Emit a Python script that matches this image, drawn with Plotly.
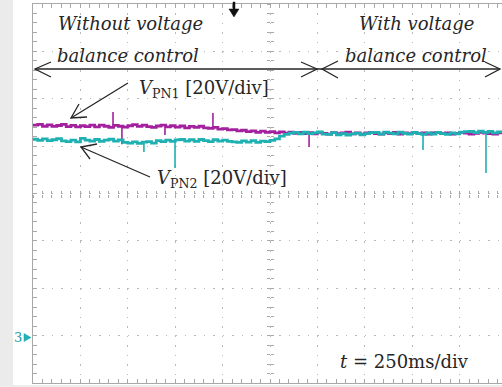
import numpy as np
import plotly.graph_objects as go

# ---------------- data ----------------
sample_step = 0.025  # s between samples
vpn1 = [88.9, 89.2, 88.4, 89.0, 88.3, 88.7, 89.2, 88.2, 88.8, 88.1,
        88.6, 88.2, 88.9, 88.1, 88.9, 88.4, 87.9, 88.8, 88.4, 88.0,
        88.6, 89.1, 88.3, 88.9, 88.2, 87.9, 88.5, 88.9, 88.1, 88.6,
        88.0, 88.5, 87.7, 88.3, 87.9, 88.4, 87.7, 87.5, 87.9, 87.2,
        87.4, 86.9, 87.0, 86.4, 86.7, 86.1, 86.4, 85.8, 86.3, 85.8,
        86.1, 85.6, 86.0, 85.5, 85.9, 85.4, 85.8, 85.3, 85.7, 85.2,
        85.8, 85.4, 85.1, 85.7, 85.3, 85.6, 85.9, 85.2, 85.6, 85.1,
        85.6, 85.8, 85.3, 85.1, 85.6, 85.3, 85.8, 85.1, 85.6, 85.3,
        85.8, 85.3, 85.6, 85.1, 85.6, 85.8, 85.3, 85.6, 85.1, 85.4,
        85.8, 85.5, 85.1, 85.4, 85.8, 85.5, 85.3, 85.1, 85.6, 85.8]
vpn2 = [82.9, 82.4, 83.1, 82.3, 82.7, 83.2, 82.2, 81.9, 82.5, 81.8,
        83.3, 82.5, 82.1, 82.8, 82.0, 82.5, 82.9, 82.1, 82.6, 81.6,
        81.3, 81.8, 81.2, 81.7, 81.9, 81.3, 82.3, 81.9, 82.5, 82.0,
        82.6, 82.8, 82.1, 82.7, 82.0, 82.8, 82.3, 81.9, 82.7, 82.1,
        82.5, 82.0, 81.8, 81.6, 82.2, 81.7, 82.3, 81.6, 82.1, 81.9,
        82.4, 83.1, 84.2, 85.0, 85.5, 85.8, 85.2, 85.9, 85.3, 85.6,
        86.0, 85.1, 85.0, 85.7, 84.8, 85.3, 84.7, 85.2, 85.5, 84.8,
        85.3, 85.7, 85.8, 85.1, 85.9, 85.5, 85.2, 85.9, 85.4, 85.1,
        85.8, 85.3, 85.0, 85.6, 85.1, 85.8, 85.3, 85.0, 85.6, 85.2,
        85.9, 86.1, 86.2, 85.7, 86.3, 85.8, 86.2, 85.6, 86.0, 85.5]
vpn1_spike_t = [0.422, 0.469, 0.696, 0.949, 1.456]
vpn1_spike_v = [94.4, 80.8, 84.7, 94.0, 79.6]
vpn2_spike_t = [0.585, 0.749, 2.057, 2.389]
vpn2_spike_v = [77.5, 70.8, 78.4, 68.7]

t = [i * sample_step for i in range(len(vpn1))]

MAG = "#a3219f"
CYA = "#1fb0b2"
GRID = "#b9b9b9"
BORDER = "#a8a8a8"
INK = "#262626"

XR = [0, 2.4735]
YR = [-20, 140]


def spikes(ts, vs, base):
    xs, ys = [], []
    for ti, vi in zip(ts, vs):
        b = float(np.interp(ti, t, base))
        xs += [ti, ti, None]
        ys += [b, vi, None]
    return xs, ys


fig = go.Figure()
fig.add_trace(go.Scatter(x=t, y=vpn1, mode="lines", line=dict(color=MAG, width=2.8, shape="hv"),
                         hoverinfo="skip", showlegend=False))
sx, sy = spikes(vpn1_spike_t, vpn1_spike_v, vpn1)
fig.add_trace(go.Scatter(x=sx, y=sy, mode="lines", line=dict(color=MAG, width=1.6),
                         hoverinfo="skip", showlegend=False))
fig.add_trace(go.Scatter(x=t, y=vpn2, mode="lines", line=dict(color=CYA, width=2.8, shape="hv"),
                         hoverinfo="skip", showlegend=False))
sx, sy = spikes(vpn2_spike_t, vpn2_spike_v, vpn2)
fig.add_trace(go.Scatter(x=sx, y=sy, mode="lines", line=dict(color=CYA, width=1.6),
                         hoverinfo="skip", showlegend=False))
# dummy traces so the centre tick axes are drawn
for xa, ya in [("x2", "y"), ("x3", "y"), ("x", "y2"), ("x", "y3")]:
    fig.add_trace(go.Scatter(x=[None], y=[None], xaxis=xa, yaxis=ya, hoverinfo="skip", showlegend=False))

# ---------------- layout geometry ----------------
L, R, T, B = 33, 502, 4, 383
W, H = R - L, B - T


def px(x):
    return (x - L) / W


def py(y):
    return (B - y) / H


dash = "1.5px,7.98px"
fig.update_layout(
    width=502, height=387,
    margin=dict(l=L, r=0, t=T, b=387 - B, pad=0),
    paper_bgcolor="white", plot_bgcolor="white",
    xaxis=dict(range=XR, tick0=0, dtick=0.25, showticklabels=False,
               showgrid=True, gridcolor=GRID, griddash=dash, gridwidth=1,
               zeroline=False, showline=True, linecolor=BORDER, linewidth=1, mirror="allticks",
               ticks="inside", ticklen=4, tickcolor=BORDER,
               minor=dict(dtick=0.05, tick0=0, ticks="inside", ticklen=4, tickcolor=BORDER, showgrid=False)),
    yaxis=dict(range=YR, tick0=-20, dtick=20, showticklabels=False,
               showgrid=True, gridcolor=GRID, griddash=dash, gridwidth=1,
               zeroline=False, showline=True, linecolor=BORDER, linewidth=1, mirror=False,
               ticks="inside", ticklen=4, tickcolor=BORDER,
               minor=dict(dtick=4, tick0=-20, ticks="inside", ticklen=4, tickcolor=BORDER, showgrid=False)),
)
center_x = 237 / W
for name, side_ticks in [("xaxis2", "inside"), ("xaxis3", "outside")]:
    fig.layout[name] = dict(range=XR, overlaying="x", anchor="free", position=0.5, tick0=0, dtick=0.05,
                            ticks=side_ticks, ticklen=3, tickcolor=BORDER, showticklabels=False,
                            showgrid=False, zeroline=False, showline=False)
for name, side_ticks in [("yaxis2", "inside"), ("yaxis3", "outside")]:
    fig.layout[name] = dict(range=YR, overlaying="y", anchor="free", position=center_x, tick0=-20, dtick=4,
                            ticks=side_ticks, ticklen=3, tickcolor=BORDER, showticklabels=False,
                            showgrid=False, zeroline=False, showline=False)

shapes = []
# gray frame strips
shapes.append(dict(type="rect", xref="paper", yref="paper", x0=px(0), x1=px(13), y0=py(387), y1=py(0),
                   fillcolor="#ebebeb", line=dict(width=0), layer="below"))
shapes.append(dict(type="rect", xref="paper", yref="paper", x0=px(0), x1=px(502), y0=py(387), y1=py(385),
                   fillcolor="#ededed", line=dict(width=0), layer="below"))


def path(points):
    return "M " + " L ".join(f"{px(x):.5f},{py(y):.5f}" for x, y in points)


def add_line(points, width=1.3):
    shapes.append(dict(type="path", xref="paper", yref="paper", path=path(points),
                       line=dict(color=INK, width=width)))


# horizontal double arrows
add_line([(35, 69), (500, 69)])
add_line([(51, 62), (35, 69), (51, 77)])
add_line([(301, 62), (317, 69), (301, 77)])
add_line([(338, 61), (322, 69), (338, 78)])
add_line([(485, 62), (500, 69), (485, 77)])
# VPN1 pointer
add_line([(128, 83), (71, 118)])
add_line([(79, 104), (71, 118), (87, 117)])
# VPN2 pointer
add_line([(150, 177), (81, 147)])
add_line([(97, 144), (81, 147), (90, 159)])
# trigger marker
shapes.append(dict(type="path", xref="paper", yref="paper",
                   path=path([(233, 2), (235, 2), (235, 9), (239, 9), (234, 17), (229, 9), (233, 9)]) + " Z",
                   fillcolor="#111111", line=dict(color="#111111", width=0.5)))
# channel 3 reference marker arrow
shapes.append(dict(type="path", xref="paper", yref="paper",
                   path=path([(24, 333.5), (31, 337.5), (24, 341.5)]) + " Z",
                   fillcolor=CYA, line=dict(color=CYA, width=0.5)))
fig.update_layout(shapes=shapes)

SERIF = "DejaVu Serif"


def label(text, x, y, size=18, color=INK):
    fig.add_annotation(text=text, xref="paper", yref="paper", x=px(x), y=py(y),
                       xanchor="center", yanchor="middle", showarrow=False,
                       font=dict(family=SERIF, size=size, color=color))


label("<i>Without voltage</i>", 130, 24)
label("<i>balance control</i>", 128, 55)
label("<i>With voltage</i>", 416, 24)
label("<i>balance control</i>", 416, 55)
label("<i>V</i><sub>PN1</sub> [20V/div]", 204, 89)
label("<i>V</i><sub>PN2</sub> [20V/div]", 222, 179)
label("<i>t</i> = 250ms/div", 404, 361)
label("3", 18, 337, size=13, color="#1c9aa6")

fig.write_html("out.html")
